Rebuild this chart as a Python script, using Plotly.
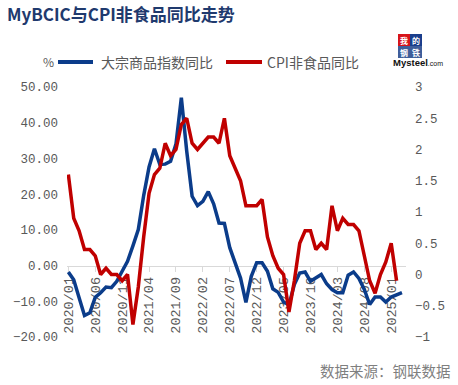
import plotly.graph_objects as go

# ---------------- data ----------------
years = ["2020", "2021", "2022", "2023", "2024", "2025"]
months = [f"{y}/{m:02d}" for y in years for m in range(1, 13)][:63]  # 2020/01 .. 2025/03

bcic_yoy = [-1.8, -4.0, -9.0, -14.0, -13.2, -8.9, -7.6, -6.0, -6.2, -4.4,
            -1.6, 1.2, 5.5, 10.1, 19.6, 27.6, 32.7, 28.3, 28.4, 29.2,
            34.0, 47.0, 32.0, 19.4, 16.8, 18.0, 20.7, 17.3, 11.9, 11.8,
            5.0, 0.8, -3.5, -10.3, -3.0, 0.8, 0.8, -1.6, -6.5, -7.5,
            -10.2, -11.0, -5.3, -2.1, -1.8, -4.4, -3.5, -2.5, -5.1, -6.7,
            -7.6, -7.6, -2.7, -1.8, -3.6, -6.7, -10.9, -8.8, -8.8, -10.2,
            -8.8, -8.1, -7.6]

cpi_nonfood_yoy = [1.6, 0.9, 0.7, 0.4, 0.4, 0.3, 0.0, 0.1, 0.0, 0.0,
                   -0.1, 0.0, -0.8, -0.2, 0.6, 1.3, 1.6, 1.7, 2.1, 1.9,
                   2.0, 2.4, 2.5, 2.1, 2.0, 2.1, 2.2, 2.2, 2.1, 2.5,
                   1.9, 1.7, 1.5, 1.1, 1.1, 1.1, 1.2, 0.6, 0.3, 0.1,
                   0.0, -0.6, -0.1, 0.5, 0.7, 0.7, 0.4, 0.5, 0.4, 1.1,
                   0.7, 0.9, 0.8, 0.8, 0.7, 0.3, -0.1, -0.3, 0.0, 0.2,
                   0.5, -0.1]

tick_months = months[::5]
left_ticks = [-20, -10, 0, 10, 20, 30, 40, 50]
right_ticks = [-1, -0.5, 0, 0.5, 1, 1.5, 2, 2.5, 3]

title_text = "MyBCIC与CPI非食品同比走势"
name_blue = "大宗商品指数同比"
name_red = "CPI非食品同比"
unit_text = "%"
source_text = "数据来源：钢联数据"

# ---------------- layout helpers ----------------
W, H = 458, 385
ML, MR, MT, MB = 67, 52, 87, 48
PW, PH = W - ML - MR, H - MT - MB


def px(x):
    return (x - ML) / PW


def py(y):
    return (H - MB - y) / PH


BLUE = "#0B3C8A"
RED = "#C00000"
GRAY = "#595959"
TICKFONT = dict(family="Liberation Mono, DejaVu Sans Mono, monospace", size=12.5, color=GRAY)
CJK = "Noto Sans CJK SC, Noto Sans, sans-serif"

fig = go.Figure()
fig.add_trace(go.Scatter(x=months, y=bcic_yoy, mode="lines", name=name_blue,
                         line=dict(color=BLUE, width=3.5), yaxis="y"))
fig.add_trace(go.Scatter(x=months[:len(cpi_nonfood_yoy)], y=cpi_nonfood_yoy, mode="lines",
                         name=name_red, line=dict(color=RED, width=3.5), yaxis="y2"))

fig.update_layout(
    width=W, height=H,
    margin=dict(l=ML, r=MR, t=MT, b=MB, pad=0),
    paper_bgcolor="white", plot_bgcolor="white",
    showlegend=False,
    xaxis=dict(type="category", range=[-0.25, 62.75], tickmode="array",
               tickvals=tick_months, ticktext=tick_months, tickangle=-90,
               tickfont=dict(family=TICKFONT["family"], size=13.5, color=GRAY),
               ticks="outside", ticklen=5, tickcolor="#D9D9D9",
               showline=True, linecolor="#D9D9D9", linewidth=1,
               showgrid=False, zeroline=False,
               anchor="free", position=20 / 70, layer="below traces"),
    yaxis=dict(range=[-20, 50], tickvals=left_ticks, tickformat=".2f",
               tickfont=TICKFONT, showgrid=False, zeroline=False, showline=False,
               ticks="", ticklabelstandoff=8, domain=[0, 1]),
    yaxis2=dict(range=[-1, 3], tickvals=right_ticks, overlaying="y", side="right",
                tickfont=TICKFONT, showgrid=False, zeroline=False, showline=False,
                ticks="", ticklabelstandoff=8),
)

annotations = [
    dict(text=f"<b>{title_text}</b>", x=px(5), y=py(14), xanchor="left", yanchor="middle",
         font=dict(family=CJK, size=17, color="#1F3A6E")),
    dict(text=unit_text, x=px(56), y=py(62), xanchor="right", yanchor="middle",
         font=dict(family=CJK, size=12, color=GRAY)),
    dict(text=name_blue, x=px(99), y=py(62), xanchor="left", yanchor="middle",
         font=dict(family=CJK, size=14, color=GRAY)),
    dict(text=name_red, x=px(265), y=py(62), xanchor="left", yanchor="middle",
         font=dict(family=CJK, size=14, color=GRAY)),
    dict(text=source_text, x=px(453), y=py(370), xanchor="right", yanchor="middle",
         font=dict(family=CJK, size=14.5, color="#7F7F7F")),
    # logo
    dict(text="<b>Mysteel</b><span style='font-size:7px'>.com</span>", x=px(418), y=py(63),
         xanchor="center", yanchor="middle",
         font=dict(family="Liberation Sans, Arial, sans-serif", size=9.5, color="#111111")),
]
logo_cells = [("我", 398, 34, "#D7141A"), ("的", 410, 34, "#1A3E8C"),
              ("钢", 398, 46, "#3F5E9A"), ("铁", 410, 46, "#3F5E9A")]
shapes = [
    dict(type="line", xref="paper", yref="paper", x0=px(58), x1=px(93), y0=py(62), y1=py(62),
         line=dict(color=BLUE, width=4)),
    dict(type="line", xref="paper", yref="paper", x0=px(226), x1=px(262), y0=py(62), y1=py(62),
         line=dict(color=RED, width=4)),
]
for ch, x0, y0, col in logo_cells:
    shapes.append(dict(type="rect", xref="paper", yref="paper", x0=px(x0), x1=px(x0 + 12),
                       y0=py(y0), y1=py(y0 + 12), fillcolor=col, line=dict(width=0)))
    annotations.append(dict(text=f"<b>{ch}</b>", x=px(x0 + 6), y=py(y0 + 6), xanchor="center",
                            yanchor="middle", font=dict(family=CJK, size=8, color="white")))

for a in annotations:
    a.update(xref="paper", yref="paper", showarrow=False)
fig.update_layout(annotations=annotations, shapes=shapes)

fig.write_html("out.html", config={"displayModeBar": False},
               post_script="document.body.style.margin='0';")
